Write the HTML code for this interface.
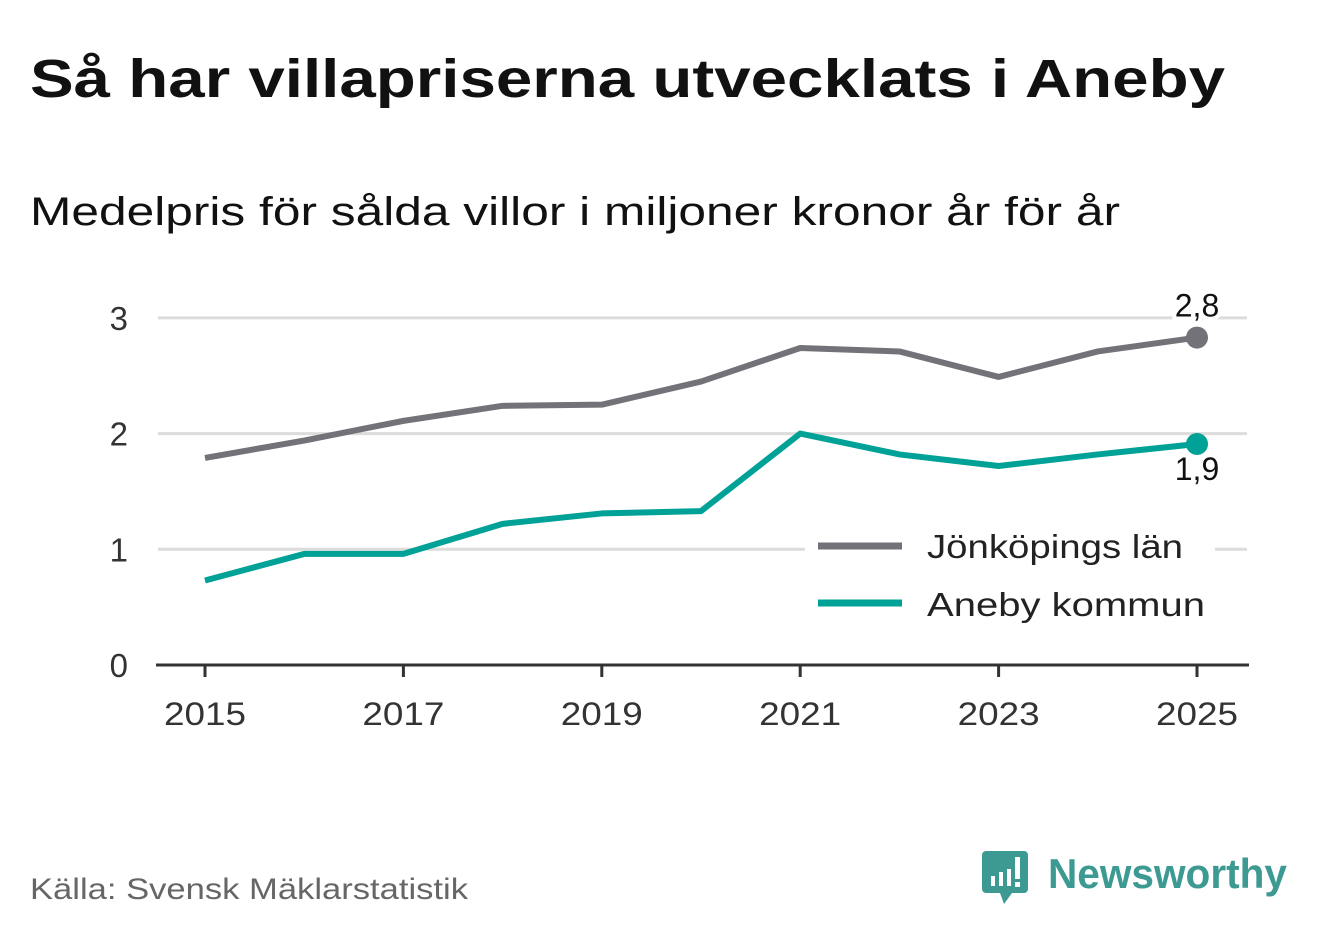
<!DOCTYPE html>
<html><head><meta charset="utf-8">
<style>
body{margin:0;background:#fff;font-family:"Liberation Sans","DejaVu Sans",sans-serif;}
svg{display:block}
</style></head>
<body>
<svg width="1322" height="939" xmlns="http://www.w3.org/2000/svg">
<text x="30" y="97" font-size="54" font-weight="bold" fill="#111" textLength="1195" lengthAdjust="spacingAndGlyphs">Så har villapriserna utvecklats i Aneby</text>
<text x="30" y="225" font-size="40" fill="#111" textLength="1090" lengthAdjust="spacingAndGlyphs">Medelpris för sålda villor i miljoner kronor år för år</text>
<g id="grid"></g>
<g id="yticks"></g>
<g id="xticks"></g>
<g id="lines"></g>
<g>
<rect x="805" y="520" width="410" height="110" fill="#fff"/>
<line x1="818" y1="546" x2="902" y2="546" stroke="#737278" stroke-width="7"/>
<text x="927" y="558" font-size="33" fill="#222" textLength="256" lengthAdjust="spacingAndGlyphs">Jönköpings län</text>
<line x1="818" y1="603" x2="902" y2="603" stroke="#00a196" stroke-width="7"/>
<text x="927" y="616" font-size="33" fill="#222" textLength="278" lengthAdjust="spacingAndGlyphs">Aneby kommun</text>
</g>
<text x="30" y="899" font-size="30" fill="#666" textLength="438" lengthAdjust="spacingAndGlyphs">Källa: Svensk Mäklarstatistik</text>
<g>
<path d="M986 851 h38 a4 4 0 0 1 4 4 v34 a4 4 0 0 1 -4 4 h-12 l-8 11 l-4 -11 h-14 a4 4 0 0 1 -4 -4 v-34 a4 4 0 0 1 4 -4z" fill="#3d9a93"/>
<rect x="991" y="876" width="4" height="10" fill="#fff"/><rect x="999" y="872" width="4" height="14" fill="#fff"/><rect x="1007" y="869" width="4" height="17" fill="#fff"/><rect x="1015" y="857" width="5" height="22" fill="#fff"/><rect x="1015" y="882" width="5" height="5" fill="#fff"/>
<text x="1048" y="888" font-size="42" font-weight="bold" fill="#3d9a93" textLength="239" lengthAdjust="spacingAndGlyphs">Newsworthy</text>
</g>
</svg>
<script>
const years=[2015,2016,2017,2018,2019,2020,2021,2022,2023,2024,2025];
const jonkoping=[1.79,1.94,2.11,2.24,2.25,2.45,2.74,2.71,2.49,2.71,2.83];
const aneby=[0.73,0.96,0.96,1.22,1.31,1.33,2.0,1.82,1.72,1.82,1.91];
const yTicks=[0,1,2,3];
const xTicks=[2015,2017,2019,2021,2023,2025];
const NS="http://www.w3.org/2000/svg";
const X=y=>205+(y-2015)*99.2;
const Y=v=>665-v*115.7;
function mk(tag,attrs,parent){const e=document.createElementNS(NS,tag);for(const k in attrs)e.setAttribute(k,attrs[k]);parent.appendChild(e);return e;}
const grid=document.getElementById('grid'),yt=document.getElementById('yticks'),xt=document.getElementById('xticks'),ln=document.getElementById('lines');
yTicks.forEach(v=>{
 if(v>0){const g=mk('line',{x1:158,x2:1247,y1:Y(v),y2:Y(v),stroke:'#dcdcdc','stroke-width':3},grid);
 
 }
 const t=mk('text',{x:128,y:Y(v)+12,'font-size':33,fill:'#333','text-anchor':'end'},yt);t.textContent=v;
 
 
});
const ax=mk('line',{x1:156,x2:1249,y1:665,y2:665,stroke:'#333','stroke-width':3},xt);


xTicks.forEach(y=>{
 const tk=mk('line',{x1:X(y),x2:X(y),y1:665,y2:677,stroke:'#333','stroke-width':3},xt);
 
 
 const t=mk('text',{x:X(y),y:725,'font-size':32,fill:'#333','text-anchor':'middle',textLength:82,lengthAdjust:'spacingAndGlyphs'},xt);t.textContent=y;
 
 
});
function series(vals,color,name,label,dy){
 const p=mk('polyline',{points:vals.map((v,i)=>X(years[i])+','+Y(v)).join(' '),fill:'none',stroke:color,'stroke-width':6,'stroke-linejoin':'round'},ln);
 
 
 const n=vals.length-1;
 const c=mk('circle',{cx:X(years[n]),cy:Y(vals[n]),r:11,fill:color},ln);
 
 
 const t=mk('text',{x:X(years[n]),y:Y(vals[n])+dy,'font-size':32,fill:'#111','text-anchor':'middle',stroke:'#fff','stroke-width':8,'paint-order':'stroke'},ln);
 t.textContent=label;
 
 
}
series(jonkoping,'#737278','jonkoping',jonkoping[10].toFixed(1).replace('.',','),-21);
series(aneby,'#00a196','aneby',aneby[10].toFixed(1).replace('.',','),36);
</script>
</body></html>
